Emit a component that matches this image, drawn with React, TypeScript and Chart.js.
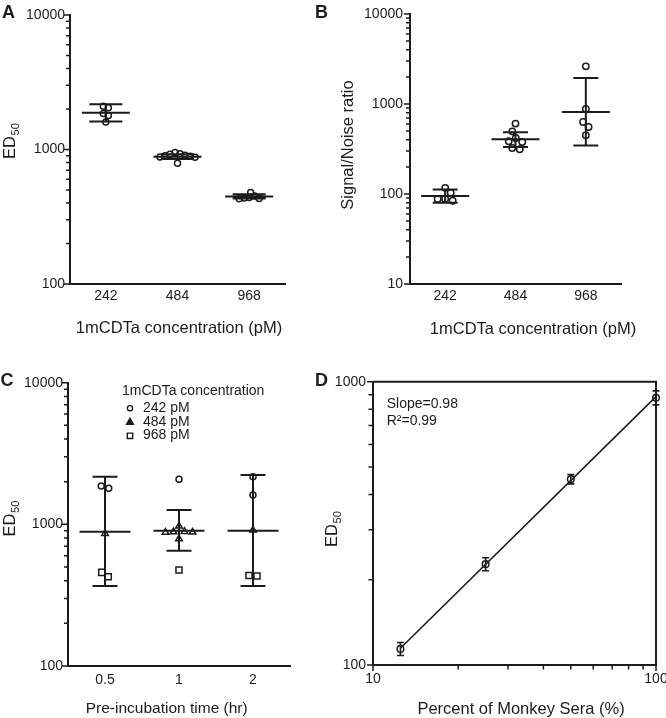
import React, { useEffect, useRef } from 'react';
import { Chart, registerables } from 'chart.js';

Chart.register(...registerables);

const FONT = "'Liberation Sans', Arial, Helvetica, sans-serif";
const INK = '#1c1c1c';

// ---------- Panel A: ED50 vs 1mCDTa concentration ----------
const concLabels = ['242', '484', '968'];
const aED50_242 = [2100, 2040, 1850, 1790, 1600];
const aED50_484 = [930, 905, 880, 920, 950, 900, 875, 890, 790];
const aED50_968 = [478, 440, 432, 436, 430, 452];
const aMean = [1880, 885, 448];
const aLow = [1615, 850, 432];
const aHigh = [2170, 920, 464];

// ---------- Panel B: Signal/Noise ratio ----------
const bSN_242 = [117, 103, 88, 84, 88];
const bSN_484 = [606, 497, 378, 419, 385, 314, 324];
const bSN_968 = [2620, 880, 631, 555, 449];
const bMean = [95, 405, 815];
const bLow = [80, 333, 345];
const bHigh = [112, 485, 1945];

// ---------- Panel C: ED50 vs pre-incubation time ----------
const timeLabels = ['0.5', '1', '2'];
const c242 = [[1795, 1862], [2078], [2168, 1610]];
const c484 = [[862], [885, 880, 890, 970, 878, 790], [911]];
const c968 = [[427, 458], [476], [432, 436]];
const cMean = [887, 902, 901];
const cLow = [367, 652, 367];
const cHigh = [2168, 1262, 2226];
const cLegendTitle = '1mCDTa concentration';
const cLegendLabels = ['242 pM', '484 pM', '968 pM'];

// ---------- Panel D: ED50 vs percent of monkey sera ----------
const dSera = [12.5, 25, 50, 100];
const dED50 = [114, 227, 453, 878];
const dErr = [6, 12, 17, 50];
const dNotes = ['Slope=0.98', 'R\u00B2=0.99'];

// ---------- helpers ----------
function logValues(min: number, max: number): number[] {
  const out: number[] = [];
  const e0 = Math.round(Math.log10(min));
  const e1 = Math.round(Math.log10(max));
  for (let e = e0; e < e1; e++) {
    for (let k = 1; k < 10; k++) out.push(Number((k * Math.pow(10, e)).toPrecision(6)));
  }
  out.push(max);
  return out;
}
const isDecade = (v: number) => Math.abs(Math.log10(v) - Math.round(Math.log10(v))) < 1e-9;

function swarm(ys: number[], d: number): number[] {
  const idx = ys.map((_, i) => i).sort((a, b) => ys[a] - ys[b]);
  const out = new Array(ys.length).fill(0);
  let cluster: number[] = [];
  const flush = () => {
    const placed: { x: number; y: number }[] = [];
    for (const i of cluster) {
      let x = 0;
      for (let k = 0; k < 600; k++) {
        const c = k === 0 ? 0 : (k % 2 ? 1 : -1) * Math.ceil(k / 2) * 0.5;
        if (placed.every((p) => Math.hypot(p.x - c, p.y - ys[i]) >= d)) {
          x = c;
          break;
        }
      }
      placed.push({ x, y: ys[i] });
      out[i] = x;
    }
    if (cluster.length) {
      const xs = cluster.map((i) => out[i]);
      const mid = (Math.min(...xs) + Math.max(...xs)) / 2;
      cluster.forEach((i) => (out[i] -= mid));
    }
    cluster = [];
  };
  idx.forEach((i, n) => {
    if (n > 0 && ys[i] - ys[idx[n - 1]] >= d) flush();
    cluster.push(i);
  });
  flush();
  return out;
}

function drawYTitle(ctx: CanvasRenderingContext2D, t: any) {
  ctx.save();
  ctx.translate(t.cx, t.cy);
  ctx.rotate(-Math.PI / 2);
  ctx.fillStyle = INK;
  ctx.textBaseline = 'alphabetic';
  ctx.textAlign = 'left';
  const main = `${t.size}px ${FONT}`;
  const subF = `${t.size * 0.68}px ${FONT}`;
  ctx.font = main;
  const w1 = ctx.measureText(t.text).width;
  ctx.font = subF;
  const w2 = t.sub ? ctx.measureText(t.sub).width + 0.5 : 0;
  const x0 = -(w1 + w2) / 2;
  const base = (t.size * 0.716) / 2;
  ctx.font = main;
  ctx.fillText(t.text, x0, base);
  if (t.sub) {
    ctx.font = subF;
    ctx.fillText(t.sub, x0 + w1 + 0.5, base + t.size * 0.24);
  }
  ctx.restore();
}

function drawXTitle(ctx: CanvasRenderingContext2D, t: any) {
  ctx.save();
  ctx.fillStyle = INK;
  ctx.font = `${t.size}px ${FONT}`;
  ctx.textAlign = 'center';
  ctx.textBaseline = 'alphabetic';
  ctx.fillText(t.text, t.cx, t.baseline);
  ctx.restore();
}

function drawYTicks(ctx: CanvasRenderingContext2D, scale: any, left: number, vals: number[], major: number, minor: number) {
  ctx.save();
  ctx.strokeStyle = INK;
  ctx.lineWidth = 1.5;
  ctx.beginPath();
  vals.forEach((v) => {
    const y = scale.getPixelForValue(v);
    const len = isDecade(v) ? major : minor;
    ctx.moveTo(left - 1 - len, y);
    ctx.lineTo(left, y);
  });
  ctx.stroke();
  ctx.restore();
}

function marker(ctx: CanvasRenderingContext2D, style: string, x: number, y: number, r: number, fill: boolean) {
  ctx.beginPath();
  if (style === 'circle') ctx.arc(x, y, r, 0, Math.PI * 2);
  else if (style === 'triangle') {
    ctx.moveTo(x, y - r * 1.1);
    ctx.lineTo(x + r, y + r * 0.65);
    ctx.lineTo(x - r, y + r * 0.65);
    ctx.closePath();
  } else ctx.rect(x - r * 0.75, y - r * 0.75, r * 1.5, r * 1.5);
  if (fill) ctx.fill();
  ctx.stroke();
}

function axisBase(padding: number) {
  return {
    grid: { display: false, drawTicks: false },
    border: { display: true, color: INK, width: 2 },
    ticks: {
      color: INK,
      font: { family: FONT, size: 14 },
      padding,
      autoSkip: false,
      maxRotation: 0,
      minRotation: 0,
    },
  };
}

// ---------- dot-plot panels ----------
type Series = { label: string; style: string; radius: number; groups: number[][] };

function buildDot(canvas: HTMLCanvasElement, cfg: any) {
  const { area, w, h } = cfg;
  const makeData = (s: Series, offs?: number[][]) =>
    s.groups.flatMap((vals, g) => vals.map((v, k) => ({ x: g + (offs ? offs[g][k] : 0), y: v })));
  const datasets = cfg.series.map((s: Series) => ({
    type: 'scatter',
    label: s.label,
    data: makeData(s),
    pointStyle: s.style,
    radius: s.radius,
    borderWidth: 1.5,
    borderColor: INK,
    backgroundColor: 'rgba(0,0,0,0)',
    clip: false,
  }));
  const xb = axisBase(cfg.xTickPad);
  const yb = axisBase(cfg.yTickPad);
  const yVals = logValues(cfg.yMin, cfg.yMax);
  const plugin = {
    id: 'dotDecor',
    beforeDatasetsDraw(chart: any) {
      const { ctx, scales } = chart;
      const x = scales.x, y = scales.y;
      ctx.save();
      ctx.strokeStyle = INK;
      ctx.lineWidth = 2;
      cfg.mean.forEach((m: number, g: number) => {
        const cx = x.getPixelForValue(g);
        const ym = y.getPixelForValue(m);
        const yl = y.getPixelForValue(cfg.low[g]);
        const yh = y.getPixelForValue(cfg.high[g]);
        ctx.beginPath();
        ctx.moveTo(cx - cfg.meanHalf, ym);
        ctx.lineTo(cx + cfg.meanHalf, ym);
        ctx.moveTo(cx - cfg.capHalf, yl);
        ctx.lineTo(cx + cfg.capHalf, yl);
        ctx.moveTo(cx - cfg.capHalf, yh);
        ctx.lineTo(cx + cfg.capHalf, yh);
        ctx.moveTo(cx, yh);
        ctx.lineTo(cx, yl);
        ctx.stroke();
      });
      ctx.restore();
    },
    afterDraw(chart: any) {
      const { ctx, chartArea, scales } = chart;
      drawYTicks(ctx, scales.y, chartArea.left, yVals, 5, 3);
      drawYTitle(ctx, cfg.yTitle);
      drawXTitle(ctx, cfg.xTitle);
      if (cfg.legend) {
        const L = cfg.legend;
        ctx.save();
        ctx.fillStyle = INK;
        ctx.strokeStyle = INK;
        ctx.font = `14px ${FONT}`;
        ctx.textAlign = 'left';
        ctx.textBaseline = 'alphabetic';
        ctx.fillText(L.title, L.x, L.titleBaseline);
        cfg.series.forEach((s: Series, i: number) => {
          const base = L.firstBaseline + i * L.step;
          ctx.lineWidth = 1.4;
          marker(ctx, s.style, L.markerX, base - 3.5, L.markerR[i], s.style === 'triangle');
          ctx.fillText(L.labels[i], L.textX, base);
        });
        ctx.restore();
      }
    },
  };
  const chart = new Chart(canvas, {
    type: 'scatter',
    data: { datasets },
    options: {
      responsive: false,
      animation: false,
      devicePixelRatio: 1,
      events: [],
      layout: { padding: { left: 0, top: area.t, right: w - area.r, bottom: 0 } },
      plugins: { legend: { display: false }, tooltip: { enabled: false } },
      scales: {
        x: {
          type: 'linear',
          min: -0.5,
          max: cfg.xLabels.length - 0.5,
          ...xb,
          ticks: { ...xb.ticks, callback: (v: any) => cfg.xLabels[Math.round(Number(v))] ?? '' },
          afterBuildTicks: (s: any) => {
            s.ticks = cfg.xLabels.map((_: string, i: number) => ({ value: i }));
          },
          afterFit: (s: any) => {
            s.height = h - area.b;
            s.paddingLeft = 0;
            s.paddingRight = 0;
          },
        },
        y: {
          type: 'logarithmic',
          min: cfg.yMin,
          max: cfg.yMax,
          ...yb,
          ticks: { ...yb.ticks, callback: (v: any) => (isDecade(Number(v)) ? String(v) : '') },
          afterBuildTicks: (s: any) => {
            s.ticks = yVals.map((value) => ({ value }));
          },
          afterFit: (s: any) => {
            s.width = area.l;
            s.paddingTop = 0;
            s.paddingBottom = 0;
          },
        },
      },
    } as any,
    plugins: [plugin as any],
  } as any);

  // horizontal scatter (beeswarm) computed from the chart's own scales
  const xs = chart.scales.x as any;
  const ys = chart.scales.y as any;
  const unit = xs.getPixelForValue(1) - xs.getPixelForValue(0);
  const offs: number[][][] = cfg.series.map((s: Series) => s.groups.map((g) => g.map(() => 0)));
  cfg.xLabels.forEach((_: string, g: number) => {
    const pts: { s: number; k: number; y: number }[] = [];
    cfg.series.forEach((s: Series, si: number) =>
      (s.groups[g] || []).forEach((v, k) => pts.push({ s: si, k, y: ys.getPixelForValue(v) }))
    );
    const o = swarm(pts.map((p) => p.y), cfg.swarmDist);
    pts.forEach((p, i) => (offs[p.s][g][p.k] = o[i] / unit));
  });
  cfg.series.forEach((s: Series, si: number) => {
    (chart.data.datasets[si] as any).data = makeData(s, offs[si]);
  });
  chart.update();
  return chart;
}

const panelA = {
  left: 0, top: 0, w: 333, h: 340,
  area: { l: 70, t: 15, r: 285, b: 284 },
  yMin: 100, yMax: 10000,
  xLabels: concLabels,
  series: [{ label: 'ED50', style: 'circle', radius: 3, groups: [aED50_242, aED50_484, aED50_968] }],
  mean: aMean, low: aLow, high: aHigh,
  meanHalf: 24, capHalf: 16.5,
  swarmDist: 5,
  yTickPad: 5, xTickPad: 4,
  yTitle: { text: 'ED', sub: '50', cx: 9.5, cy: 141, size: 16.5 },
  xTitle: { text: '1mCDTa concentration (pM)', cx: 179, baseline: 332.5, size: 16.5 },
};

const panelB = {
  left: 333, top: 0, w: 333, h: 340,
  area: { l: 77, t: 14, r: 288, b: 284 },
  yMin: 10, yMax: 10000,
  xLabels: concLabels,
  series: [{ label: 'Signal/Noise', style: 'circle', radius: 3.2, groups: [bSN_242, bSN_484, bSN_968] }],
  mean: bMean, low: bLow, high: bHigh,
  meanHalf: 24, capHalf: 12.5,
  swarmDist: 7.4,
  yTickPad: 7, xTickPad: 4,
  yTitle: { text: 'Signal/Noise ratio', sub: '', cx: 14, cy: 145, size: 16.5 },
  xTitle: { text: '1mCDTa concentration (pM)', cx: 200, baseline: 334, size: 16.5 },
};

const panelC = {
  left: 0, top: 340, w: 333, h: 378,
  area: { l: 68, t: 42.7, r: 290, b: 326 },
  yMin: 100, yMax: 10000,
  xLabels: timeLabels,
  series: [
    { label: cLegendLabels[0], style: 'circle', radius: 3, groups: c242 },
    { label: cLegendLabels[1], style: 'triangle', radius: 3.8, groups: c484 },
    { label: cLegendLabels[2], style: 'rect', radius: 4.3, groups: c968 },
  ],
  mean: cMean, low: cLow, high: cHigh,
  meanHalf: 25.5, capHalf: 12.5,
  swarmDist: 7.6,
  yTickPad: 5, xTickPad: 5.6,
  yTitle: { text: 'ED', sub: '50', cx: 9.2, cy: 178.5, size: 16.5 },
  xTitle: { text: 'Pre-incubation time (hr)', cx: 166.7, baseline: 373, size: 15.5 },
  legend: {
    title: cLegendTitle, labels: cLegendLabels,
    x: 122, titleBaseline: 55, firstBaseline: 71.7, step: 13.8,
    markerX: 130, textX: 143, markerR: [2.6, 3.4, 3.6],
  },
};

function DotPanel({ cfg }: { cfg: any }) {
  const ref = useRef<HTMLCanvasElement>(null);
  useEffect(() => {
    const chart = buildDot(ref.current as HTMLCanvasElement, cfg);
    return () => chart.destroy();
  }, [cfg]);
  return (
    <canvas
      ref={ref}
      width={cfg.w}
      height={cfg.h}
      style={{ position: 'absolute', left: cfg.left, top: cfg.top, width: cfg.w, height: cfg.h }}
    />
  );
}

// ---------- Panel D ----------
const panelD = {
  left: 320, top: 340, w: 346, h: 378,
  area: { l: 53, t: 41.7, r: 336, b: 325 },
};

function buildD(canvas: HTMLCanvasElement) {
  const { area, w, h } = panelD;
  const lx = dSera.map(Math.log10);
  const ly = dED50.map(Math.log10);
  const mx = lx.reduce((a, b) => a + b, 0) / lx.length;
  const my = ly.reduce((a, b) => a + b, 0) / ly.length;
  let sxy = 0, sxx = 0;
  lx.forEach((v, i) => {
    sxy += (v - mx) * (ly[i] - my);
    sxx += (v - mx) * (v - mx);
  });
  const slope = sxy / sxx;
  const icpt = my - slope * mx;
  const ends = [dSera[0], dSera[dSera.length - 1]];
  const fitLine = ends.map((x) => ({ x, y: Math.pow(10, icpt + slope * Math.log10(x)) }));
  const xVals = logValues(10, 100);
  const yVals = logValues(100, 1000);
  const xb = axisBase(6);
  const yb = axisBase(7);
  const plugin = {
    id: 'dDecor',
    afterDatasetsDraw(chart: any) {
      const { ctx, scales } = chart;
      ctx.save();
      ctx.strokeStyle = INK;
      ctx.lineWidth = 1.6;
      dSera.forEach((xv, i) => {
        const cx = scales.x.getPixelForValue(xv);
        const yl = scales.y.getPixelForValue(dED50[i] - dErr[i]);
        const yh = scales.y.getPixelForValue(dED50[i] + dErr[i]);
        ctx.beginPath();
        ctx.moveTo(cx, yh);
        ctx.lineTo(cx, yl);
        ctx.moveTo(cx - 3.5, yh);
        ctx.lineTo(cx + 3.5, yh);
        ctx.moveTo(cx - 3.5, yl);
        ctx.lineTo(cx + 3.5, yl);
        ctx.stroke();
      });
      ctx.restore();
    },
    afterDraw(chart: any) {
      const { ctx, chartArea: a, scales } = chart;
      ctx.save();
      ctx.strokeStyle = INK;
      ctx.lineWidth = 2;
      ctx.beginPath();
      ctx.moveTo(a.left, a.top);
      ctx.lineTo(a.right, a.top);
      ctx.lineTo(a.right, a.bottom);
      ctx.stroke();
      ctx.lineWidth = 1.5;
      ctx.beginPath();
      xVals.forEach((v) => {
        const x = scales.x.getPixelForValue(v);
        const len = isDecade(v) ? 5 : 3.5;
        ctx.moveTo(x, a.bottom);
        ctx.lineTo(x, a.bottom + 1 + len);
      });
      ctx.stroke();
      ctx.restore();
      drawYTicks(ctx, scales.y, a.left, yVals, 5, 3.5);
      drawYTitle(ctx, { text: 'ED', sub: '50', cx: 11, cy: 189, size: 16.5 });
      drawXTitle(ctx, { text: 'Percent of Monkey Sera (%)', cx: 201, baseline: 374, size: 16.5 });
      ctx.save();
      ctx.fillStyle = INK;
      ctx.font = `14px ${FONT}`;
      ctx.textAlign = 'left';
      ctx.textBaseline = 'alphabetic';
      dNotes.forEach((t, i) => ctx.fillText(t, a.left + 13.7, a.top + 26.6 + i * 16.7));
      ctx.restore();
    },
  };
  return new Chart(canvas, {
    type: 'scatter',
    data: {
      datasets: [
        { type: 'line', data: fitLine, borderColor: INK, borderWidth: 1.6, pointRadius: 0, clip: false },
        {
          type: 'scatter',
          data: dSera.map((x, i) => ({ x, y: dED50[i] })),
          pointStyle: 'circle',
          radius: 3.3,
          borderWidth: 1.5,
          borderColor: INK,
          backgroundColor: 'rgba(0,0,0,0)',
          clip: false,
        },
      ],
    },
    options: {
      responsive: false,
      animation: false,
      devicePixelRatio: 1,
      events: [],
      layout: { padding: { left: 0, top: area.t, right: w - area.r, bottom: 0 } },
      plugins: { legend: { display: false }, tooltip: { enabled: false } },
      scales: {
        x: {
          type: 'logarithmic',
          min: 10,
          max: 100,
          ...xb,
          ticks: { ...xb.ticks, callback: (v: any) => (isDecade(Number(v)) ? String(v) : '') },
          afterBuildTicks: (s: any) => {
            s.ticks = xVals.map((value) => ({ value }));
          },
          afterFit: (s: any) => {
            s.height = h - area.b;
            s.paddingLeft = 0;
            s.paddingRight = 0;
          },
        },
        y: {
          type: 'logarithmic',
          min: 100,
          max: 1000,
          ...yb,
          ticks: { ...yb.ticks, callback: (v: any) => (isDecade(Number(v)) ? String(v) : '') },
          afterBuildTicks: (s: any) => {
            s.ticks = yVals.map((value) => ({ value }));
          },
          afterFit: (s: any) => {
            s.width = area.l;
            s.paddingTop = 0;
            s.paddingBottom = 0;
          },
        },
      },
    } as any,
    plugins: [plugin as any],
  } as any);
}

function PanelD() {
  const ref = useRef<HTMLCanvasElement>(null);
  useEffect(() => {
    const chart = buildD(ref.current as HTMLCanvasElement);
    return () => chart.destroy();
  }, []);
  return (
    <canvas
      ref={ref}
      width={panelD.w}
      height={panelD.h}
      style={{ position: 'absolute', left: panelD.left, top: panelD.top, width: panelD.w, height: panelD.h }}
    />
  );
}

function Letter({ text, x, y }: { text: string; x: number; y: number }) {
  return (
    <div
      style={{
        position: 'absolute',
        left: x,
        top: y,
        font: `bold 18px ${FONT}`,
        lineHeight: '18px',
        color: INK,
      }}
    >
      {text}
    </div>
  );
}

export default function App() {
  return (
    <div style={{ position: 'absolute', left: 0, top: 0, width: 666, height: 718, background: '#fff', overflow: 'hidden' }}>
      <DotPanel cfg={panelA} />
      <DotPanel cfg={panelB} />
      <DotPanel cfg={panelC} />
      <PanelD />
      <Letter text="A" x={2} y={3.3} />
      <Letter text="B" x={315} y={3.3} />
      <Letter text="C" x={0.5} y={371.3} />
      <Letter text="D" x={315} y={371.3} />
    </div>
  );
}
